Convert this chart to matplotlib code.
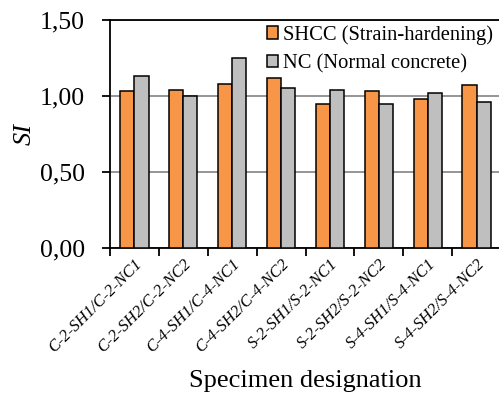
import numpy as np
import matplotlib
matplotlib.use("agg")
import matplotlib.pyplot as plt
from matplotlib.ticker import FixedLocator, FuncFormatter

plt.rcParams["font.family"] = ["Liberation Serif", "DejaVu Serif"]

specimens = ["C-2-SH1/C-2-NC1", "C-2-SH2/C-2-NC2", "C-4-SH1/C-4-NC1",
             "C-4-SH2/C-4-NC2", "S-2-SH1/S-2-NC1", "S-2-SH2/S-2-NC2",
             "S-4-SH1/S-4-NC1", "S-4-SH2/S-4-NC2"]
shcc = [1.03, 1.04, 1.08, 1.12, 0.95, 1.03, 0.98, 1.07]
nc = [1.13, 1.00, 1.25, 1.05, 1.04, 0.95, 1.02, 0.96]
yticks = [0.0, 0.5, 1.0, 1.5]

fig = plt.figure(figsize=(4.99, 3.96), dpi=100)
ax = fig.add_axes([110 / 499, 148 / 396, 391 / 499, 228 / 396])

x = np.arange(len(specimens))
w = 0.29
ax.bar(x - w / 2, shcc, w, color="#F79646", edgecolor="black",
       linewidth=1.1, label="SHCC (Strain-hardening)", zorder=3)
ax.bar(x + w / 2, nc, w, color="#BFBFBF", edgecolor="black",
       linewidth=1.1, label="NC (Normal concrete)", zorder=3)

ax.set_xlim(-0.5, len(specimens) - 0.5)
ax.set_ylim(0, 1.5)
ax.set_yticks(yticks)
ax.yaxis.set_major_formatter(FuncFormatter(lambda v, p: f"{v:.2f}".replace(".", ",")))
ax.tick_params(axis="y", labelsize=18.5, length=6, width=1.3, direction="out", pad=12)

ax.set_xticks(x)
ax.set_xticklabels(specimens, rotation=45, ha="right", rotation_mode="anchor",
                   fontsize=12, style="italic")
ax.tick_params(axis="x", which="major", length=0, pad=6)
ax.xaxis.set_minor_locator(FixedLocator(np.arange(-0.5, len(specimens), 1.0)))
ax.tick_params(axis="x", which="minor", length=6, width=1.3, direction="out")

ax.yaxis.grid(True, color="#8c8c8c", linewidth=1.3, zorder=0)
ax.set_axisbelow(True)
for side in ["left", "bottom", "top"]:
    ax.spines[side].set_linewidth(1.3)
ax.spines["right"].set_visible(False)

ax.set_ylabel("SI", fontsize=19, style="italic")
ax.yaxis.set_label_coords(-0.19, 0.5)
ax.set_xlabel("Specimen designation", fontsize=19, labelpad=10)

ax.legend(loc="upper left", bbox_to_anchor=(267 / 499, 1 - 25 / 396),
          bbox_transform=fig.transFigure, frameon=False, fontsize=14.8,
          handlelength=0.55, handleheight=0.55, handletextpad=0.25,
          labelspacing=0.45, borderpad=0, borderaxespad=0)

fig.savefig("out.png", dpi=100)
